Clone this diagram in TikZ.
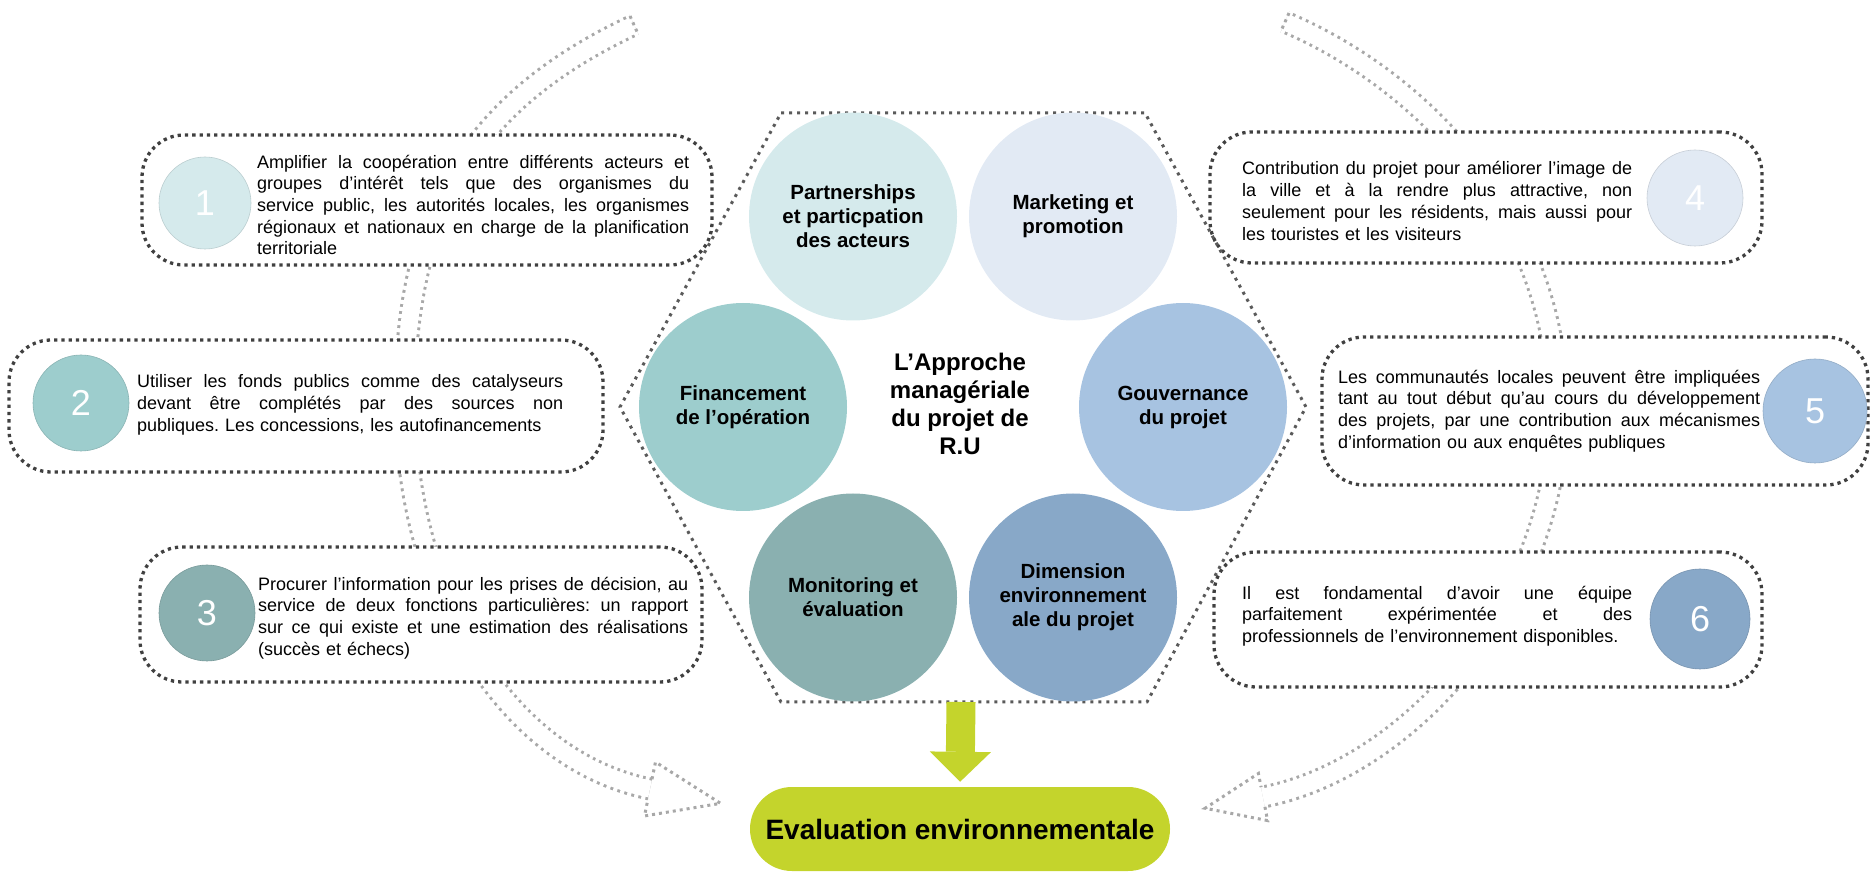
\documentclass[tikz,border=0pt]{standalone}
\usepackage{fontspec}
\setmainfont{Liberation Sans}
\usetikzlibrary{arrows.meta}

\definecolor{cpart}{HTML}{D5EAEC}
\definecolor{cmark}{HTML}{E2EAF4}
\definecolor{cfin}{HTML}{9DCDCD}
\definecolor{cgov}{HTML}{A7C3E1}
\definecolor{cmon}{HTML}{8AB0B0}
\definecolor{cdim}{HTML}{88A8C8}
\definecolor{evalgreen}{HTML}{C4D42C}
\definecolor{dotgray}{HTML}{404040}
\definecolor{hexgray}{HTML}{5A5A5A}
\definecolor{arrowgray}{HTML}{A8A8A8}

\setlength{\parindent}{0pt}
\frenchspacing
% one justified line of a text block, \jw is set by side_text
\newlength{\jw}
\newcommand{\jline}[1]{\makebox[\jw][s]{\spaceskip=0pt\xspaceskip=0pt #1}\\}

\begin{document}
\begin{tikzpicture}[x=1pt, y=1pt,
    main_node/.style={circle, minimum size=208pt, inner sep=0pt, align=center, font=\bfseries\fontsize{20.5}{24}\selectfont},
    num_node/.style={circle, fill=#1, draw=#1!88!black, line width=0.6pt, inner sep=0pt, text=white, font=\fontsize{36}{36}\selectfont},
    side_box/.style={draw=dotgray, fill=white, line width=3.3pt, dash pattern=on 3.3pt off 4pt, rounded corners=42pt},
    side_text/.style={anchor=west, inner sep=0pt, text width=#1, align=left, font=\fontsize{18}{21.7}\selectfont,
        execute at begin node={\setlength{\jw}{#1}}},
    flow_arrow/.style={arrowgray, line width=23pt, postaction={draw=white, line width=17pt}, postaction={draw=white, line width=25pt, dash pattern=on 4pt off 3pt}},
    flow_dots/.style={draw=arrowgray, line width=3pt, dash pattern=on 3pt off 4pt},
  ]
    \useasboundingbox (0,0) rectangle (1871,873);

    % hollow dotted arrows running down both sides
    \draw[flow_arrow] (634,848) .. controls (474,773) and (405,663) .. (405,473)
        .. controls (405,283) and (503,114) .. (650,84);
    \draw[flow_dots] (630,857) -- (638,839);
    \begin{scope}[shift={(650,84)}, rotate=-11.5]
        \draw[flow_dots] (0,10) -- (0,27.5) -- (72,0) -- (0,-27.5) -- (0,-10);
    \end{scope}

    \draw[flow_arrow] (1285,851) .. controls (1423,792.5) and (1558,653) .. (1558,463)
        .. controls (1558,273) and (1410,104.5) .. (1263,76);
    \draw[flow_dots] (1289,860) -- (1281,842);
    \begin{scope}[shift={(1263,76)}, rotate=191]
        \draw[flow_dots] (0,10) -- (0,24) -- (59,0) -- (0,-24) -- (0,-10);
    \end{scope}

    % side boxes
    \node[side_box, minimum width=570pt, minimum height=130pt] (b1) at (427,673) {};
    \node[side_box, minimum width=594pt, minimum height=132pt] (b2) at (306,467) {};
    \node[side_box, minimum width=562pt, minimum height=135pt] (b3) at (421,258.5) {};
    \node[side_box, minimum width=552pt, minimum height=131pt] (b4) at (1486,675.5) {};
    \node[side_box, minimum width=546pt, minimum height=148pt] (b5) at (1595,462) {};
    \node[side_box, minimum width=548pt, minimum height=135pt] (b6) at (1488,253.5) {};

    \node[num_node=cpart, minimum size=92pt] (n1) at (205,670) {1};
    \node[num_node=cfin, minimum size=96pt] (n2) at (81,470) {2};
    \node[num_node=cmon, minimum size=96pt] (n3) at (207,260) {3};
    \node[num_node=cmark, minimum size=96pt] (n4) at (1695,675) {4};
    \node[num_node=cgov, minimum size=104pt] (n5) at (1815,462) {5};
    \node[num_node=cdim, minimum size=100pt] (n6) at (1700,254) {6};

    \node[side_text=432pt] (t1) at (257,668) {\jline{Amplifier la coopération entre différents acteurs et}\jline{groupes d’intérêt tels que des organismes du}\jline{service public, les autorités locales, les organismes}\jline{régionaux et nationaux en charge de la planification}territoriale};
    \node[side_text=426pt] (t2) at (137,468) {\jline{Utiliser les fonds publics comme des catalyseurs}\jline{devant être complétés par des sources non}publiques. Les concessions, les autofinancements};
    \node[side_text=430pt] (t3) at (258,255) {\jline{Procurer l’information pour les prises de décision, au}\jline{service de deux fonctions particulières: un rapport}\jline{sur ce qui existe et une estimation des réalisations}(succès et échecs)};
    \node[side_text=390pt] (t4) at (1242,672) {\jline{Contribution du projet pour améliorer l’image de}\jline{la ville et à la rendre plus attractive, non}\jline{seulement pour les résidents, mais aussi pour}les touristes et les visiteurs};
    \node[side_text=422pt] (t5) at (1338,462) {\jline{Les communautés locales peuvent être impliquées}\jline{tant au tout début qu’au cours du développement}\jline{des projets, par une contribution aux mécanismes}d’information ou aux enquêtes publiques};
    \node[side_text=390pt] (t6) at (1242,257) {\jline{Il est fondamental d’avoir une équipe}\jline{parfaitement expérimentée et des}professionnels de l’environnement disponibles.};

    % hexagon with the six themes
    \draw[hexgray, line width=3pt, dash pattern=on 3pt off 5pt]
        (781,760) -- (1145,760) -- (1306,466) -- (1147,171) -- (781,171) -- (620,466) -- cycle;

    \node[main_node, fill=cpart] (1) at (853,656.5) {Partnerships\\et particpation\\des acteurs};
    \node[main_node, fill=cmark] (4) at (1073,656.5) {Marketing et\\promotion};
    \node[main_node, fill=cfin] (2) at (743,466) {Financement\\de l’opération};
    \node[main_node, fill=cgov] (5) at (1183,466) {Gouvernance\\du projet};
    \node[main_node, fill=cmon] (3) at (853,275.5) {Monitoring et\\évaluation};
    \node[main_node, fill=cdim] (6) at (1073,275.5) {Dimension\\environnement\\ale du projet};

    \node[align=center, font=\bfseries\fontsize{24}{28}\selectfont] (0) at (960,469) {L’Approche\\managériale\\du projet de\\R.U};

    \node[fill=evalgreen, rounded corners=42pt, minimum width=420pt, minimum height=84pt,
          font=\bfseries\fontsize{28}{28}\selectfont] (ev) at (960,44) {Evaluation environnementale};

    \coordinate (h) at (961,171);
    \draw[evalgreen, line width=29pt, -{Triangle[width=61pt, length=30pt, line width=0pt]}, shorten >=5pt] (h) -- (ev.north);
\end{tikzpicture}
\end{document}
